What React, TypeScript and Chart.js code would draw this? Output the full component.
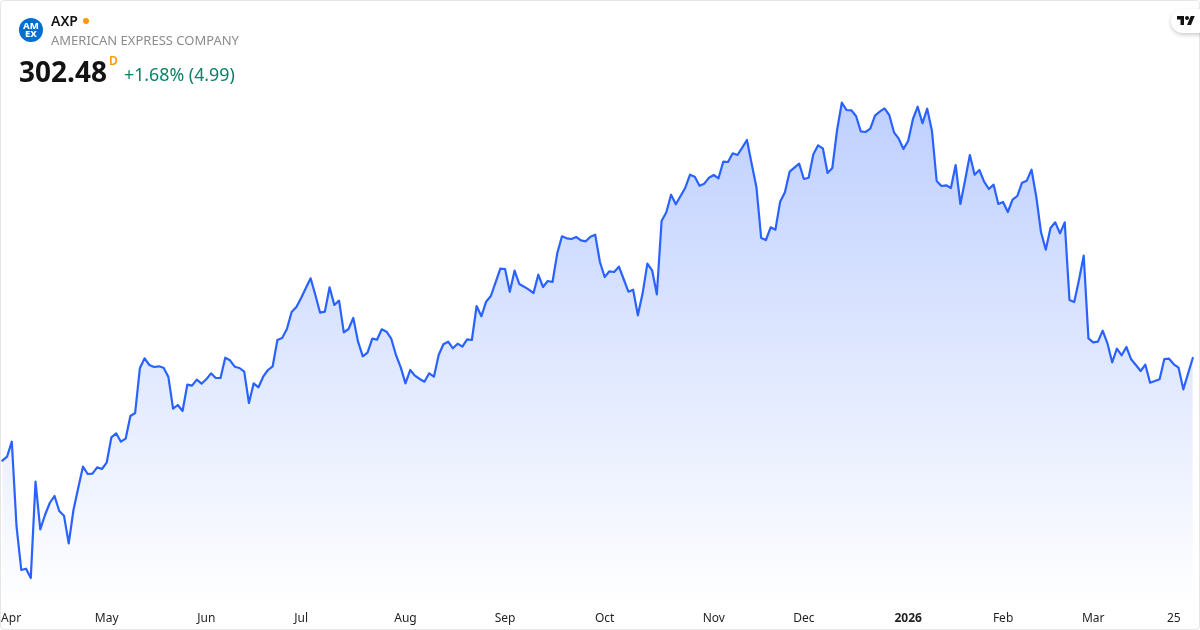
import React, { useEffect, useRef } from "react";
import { Chart, registerables } from "chart.js";

Chart.register(...registerables);

const closes: number[] = [
  269.62, 270.9, 275.7, 248.5, 234.64, 235.06, 232.08, 262.9, 247.66, 252.24,
  256.08, 258.32, 253.52, 252.02, 243.18, 253.84, 260.88, 267.7, 265.36, 265.46,
  267.5, 266.96, 268.98, 277.1, 278.38, 275.7, 276.66, 283.92, 284.88, 299.18,
  302.38, 300.24, 299.6, 299.82, 299.38, 296.5, 286.26, 287.44, 285.52, 293.94,
  293.62, 295.54, 294.26, 295.66, 297.58, 296.08, 296.08, 302.58, 301.74, 299.7,
  299.28, 298.1, 288.08, 294.38, 293.1, 296.5, 298.64, 299.82, 308.24, 308.88,
  311.76, 317.2, 318.8, 321.68, 324.88, 327.98, 322.64, 316.98, 317.3, 325.1,
  319.44, 320.82, 310.7, 311.76, 315.28, 307.7, 303.02, 304.18, 308.66, 308.34,
  311.66, 310.9, 308.66, 303.44, 299.5, 294.38, 298.64, 296.82, 295.76, 294.9,
  297.58, 296.5, 303.44, 306.86, 307.7, 305.58, 307.06, 306.1, 308.46, 308.24,
  319.12, 315.82, 320.5, 322.32, 326.7, 331.06, 330.96, 323.7, 330.42, 326.16,
  325.3, 324.34, 323.28, 329.14, 325.2, 327.12, 326.8, 335.98, 341.42, 340.78,
  340.56, 341.2, 340.14, 339.82, 341.3, 341.94, 333.2, 328.4, 330.22, 330.0,
  331.7, 327.76, 323.7, 324.34, 316.14, 323.18, 332.66, 330.54, 322.86, 346.32,
  349.1, 354.74, 351.66, 354.32, 356.98, 361.14, 360.5, 357.62, 358.26, 360.18,
  361.04, 359.98, 365.3, 365.2, 367.98, 367.44, 369.78, 372.24, 364.56, 357.1,
  340.88, 340.24, 344.3, 343.54, 352.5, 355.5, 362.1, 363.38, 364.66, 359.76,
  360.18, 367.66, 370.54, 369.58, 361.68, 363.28, 375.44, 384.18, 381.84, 381.74,
  379.92, 375.02, 374.8, 375.86, 380.02, 381.3, 382.38, 380.24, 374.7, 372.66,
  369.36, 372.02, 378.96, 382.9, 377.58, 382.26, 375.22, 359.12, 357.52, 357.74,
  356.88, 364.24, 351.76, 359.44, 367.44, 361.14, 362.64, 358.9, 356.56, 357.94,
  351.76, 352.4, 349.2, 353.14, 354.32, 358.58, 359.22, 362.74, 354.1, 342.7,
  337.14, 344.08, 345.9, 342.38, 345.9, 321.04, 320.4, 327.44, 335.22, 308.78,
  307.5, 307.7, 311.22, 307.18, 301.1, 305.46, 303.34, 306.0, 302.06, 300.24,
  298.32, 300.34, 294.58, 295.12, 295.66, 302.16, 302.26, 300.46, 299.38, 292.46,
  297.49, 302.48,
];

const sessionIndex: number[] = closes.map((_, i) => i);

const tickLabels: string[] = ["Apr", "May", "Jun", "Jul", "Aug", "Sep", "Oct", "Nov", "Dec", "2026", "Feb", "Mar", "25"];
const tickSessions: number[] = [1.85, 22, 43, 63, 85, 106, 127, 150, 169, 191, 211, 230, 247];

const symbol = "AXP";
const companyName = "AMERICAN EXPRESS COMPANY";
const lastPrice = "302.48";
const priceUnit = "D";
const priceChange = "+1.68% (4.99)";

const FONT = '"Noto Sans", "Open Sans", sans-serif';

export default function App() {
  const canvasRef = useRef<HTMLCanvasElement | null>(null);

  useEffect(() => {
    document.body.style.margin = "0";
    document.body.style.background = "#ffffff";
    const canvas = canvasRef.current!;
    const ctx = canvas.getContext("2d")!;
    const fill = ctx.createLinearGradient(0, 100, 0, 604);
    fill.addColorStop(0, "rgba(41, 98, 255, 0.30)");
    fill.addColorStop(1, "rgba(41, 98, 255, 0.0)");

    const chart = new Chart(canvas, {
      type: "line",
      data: {
        datasets: [
          {
            label: symbol,
            data: sessionIndex.map((i) => ({ x: i, y: closes[i] })),
            borderColor: "#2962ff",
            borderWidth: 2.2,
            backgroundColor: fill,
            fill: "start",
            pointRadius: 0,
            tension: 0,
            borderJoinStyle: "round",
            borderCapStyle: "round",
          },
        ],
      },
      options: {
        animation: false,
        responsive: false,
        events: [],
        layout: { padding: 0 },
        plugins: { legend: { display: false }, tooltip: { enabled: false }, title: { display: false } },
        scales: {
          x: {
            type: "linear",
            min: -0.49,
            max: 252.52,
            position: "bottom",
            grid: { display: false, drawTicks: false },
            border: { display: false },
            afterBuildTicks: (axis: any) => {
              axis.ticks = tickSessions.map((value) => ({ value }));
            },
            afterFit: (axis: any) => {
              axis.height = 26;
              axis.paddingLeft = 0;
              axis.paddingRight = 0;
            },
            ticks: {
              autoSkip: false,
              maxRotation: 0,
              minRotation: 0,
              padding: 7,
              color: "#1f1f1f",
              font: (c: any) => ({
                family: FONT,
                size: 12,
                weight: c.tick && c.tick.value === 191 ? "bold" : "normal",
              }),
              callback: (value: any) => {
                const at = tickSessions.indexOf(Number(value));
                return at >= 0 ? tickLabels[at] : "";
              },
            },
          },
          y: {
            type: "linear",
            min: 223.76,
            max: 417.04,
            display: false,
          },
        },
      },
    });
    return () => chart.destroy();
  }, []);

  return (
    <div style={{ position: "absolute", left: 0, top: 0, width: 1200, height: 630, overflow: "hidden", background: "#fff", fontFamily: FONT }}>
      <canvas ref={canvasRef} width={1200} height={630} style={{ position: "absolute", left: 0, top: 0, display: "block" }} />
      <div style={{ position: "absolute", inset: 0, border: "1px solid #e6e6e6", borderRadius: 4, boxSizing: "border-box", pointerEvents: "none" }} />

      <svg width="24" height="24" viewBox="0 0 24 24" style={{ position: "absolute", left: 19, top: 18 }}>
        <circle cx="12" cy="12" r="12" fill="#016fd0" />
        <text x="12" y="11.2" textAnchor="middle" fontSize="9.5" fontWeight="800" fill="#fff" fontFamily={FONT}>AM</text>
        <text x="12" y="19" textAnchor="middle" fontSize="9.5" fontWeight="800" fill="#fff" fontFamily={FONT}>EX</text>
      </svg>

      <div style={{ position: "absolute", left: 51, top: 12, fontSize: 14, lineHeight: "18px", fontWeight: 600, color: "#131313" }}>{symbol}</div>
      <div style={{ position: "absolute", left: 83, top: 18, width: 6, height: 6, borderRadius: 3, background: "#ff9800" }} />
      <div style={{ position: "absolute", left: 51, top: 31, fontSize: 13, lineHeight: "18px", color: "#8c8c8c" }}>{companyName}</div>
      <div style={{ position: "absolute", left: 19, top: 52, fontSize: 28, lineHeight: "38px", fontWeight: 700, color: "#131313" }}>{lastPrice}</div>
      <div style={{ position: "absolute", left: 109, top: 54, fontSize: 12, lineHeight: "14px", fontWeight: 600, color: "#ff9800" }}>{priceUnit}</div>
      <div style={{ position: "absolute", left: 124, top: 62, fontSize: 17.8, lineHeight: "24px", color: "#0c8068" }}>{priceChange}</div>

      <div style={{ position: "absolute", left: 1171, top: 9, width: 40, height: 24, borderRadius: 12, background: "#fff", boxShadow: "0 2px 4px rgba(0,0,0,0.2)" }} />
      <svg width="18" height="14" viewBox="0 0 36 28" style={{ position: "absolute", left: 1177, top: 14 }}>
        <path d="M14 22H7V11H0V4h14v18zM28 22h-8l7.5-18h8L28 22z" fill="#131313" />
        <circle cx="20" cy="8" r="4" fill="#131313" />
      </svg>
    </div>
  );
}
